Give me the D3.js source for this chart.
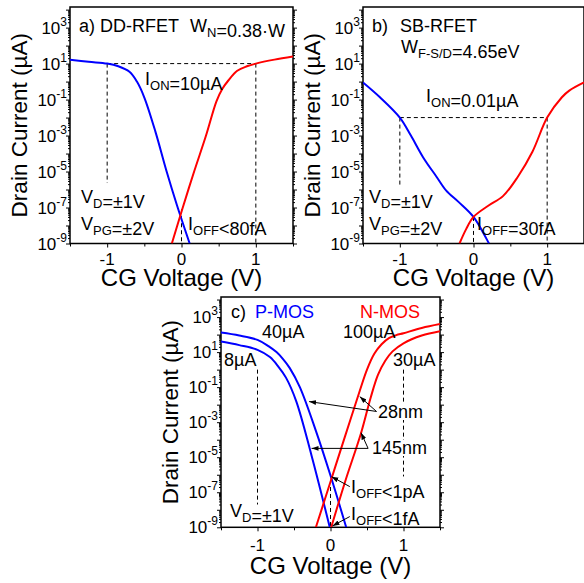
<!DOCTYPE html>
<html>
<head>
<meta charset="utf-8">
<script src="https://cdn.jsdelivr.net/npm/d3@7"></script>
<style>
body{margin:0;background:#fff}
text{font-family:"Liberation Sans",Arial,sans-serif;fill:#000}
</style>
</head>
<body>
<svg id="fig" width="584" height="583"></svg>
<script>
// data, currents in uA
var xTicks = [-1, 0, 1]
var xMinor = [-1.5, -0.5, 0.5, 1.5]
var yLabelExps = [3, 1, -1, -3, -5, -7, -9]
var yMax = 1.4e4

// a) DD-RFET
var aPV = [-1.5, -1.25, -1.0, -0.85, -0.7, -0.6, -0.5, -0.35, -0.2, -0.06, 0.11]
var aPI = [16.6, 12.6, 10, 7.1, 3.5, 1.0, 0.13, 1.6e-3, 1e-5, 1.3e-7, 1e-9]
var aNV = [-0.13, 0.01, 0.17, 0.33, 0.47, 0.55, 0.63, 0.75, 0.88, 1.0, 1.25, 1.5]
var aNI = [1e-9, 8e-8, 1e-5, 1e-3, 0.08, 0.4, 1.15, 4, 7.1, 10, 16.6, 24.5]

// b) SB-RFET
var bPV = [-1.5, -1.27, -1.0, -0.85, -0.685, -0.5, -0.37, -0.2, 0, 0.21]
var bPI = [0.9, 0.135, 0.01, 1e-3, 6.3e-5, 5e-6, 8.7e-7, 2e-7, 3e-8, 1e-9]
var bNV = [-0.19, -0.1, 0, 0.2, 0.4, 0.6, 0.8, 1.0, 1.2, 1.3, 1.5]
var bNI = [1e-9, 6.3e-9, 3e-8, 1.26e-7, 4.3e-7, 5e-6, 1.26e-4, 0.01, 0.135, 0.316, 0.9]

// c) MOS 28nm / 145nm
var cP28V = [-1.5, -1.25, -1.0, -0.85, -0.74, -0.65, -0.56, -0.42, -0.2, 0, 0.215]
var cP28I = [132, 89, 50, 22, 10, 4, 1.26, 0.1, 3.2e-4, 9e-7, 1e-9]
var cP145V = [-1.5, -1.25, -1.0, -0.83, -0.72, -0.61, -0.47, -0.26, -0.01]
var cP145I = [40, 25, 13.5, 5.2, 1.6, 0.35, 0.016, 1.26e-5, 1e-9]
var cN28V = [-0.2, 0, 0.2, 0.4, 0.5, 0.6, 0.7, 0.8, 0.9, 1.0, 1.25, 1.5]
var cN28I = [1e-9, 4e-7, 1.6e-4, 0.06, 1.0, 8, 28, 63, 93, 120, 240, 400]
var cN145V = [0.01, 0.2, 0.42, 0.55, 0.65, 0.75, 0.85, 1.0, 1.25, 1.5]
var cN145I = [1e-9, 4e-7, 2.5e-4, 0.025, 0.5, 3.2, 11, 32, 89, 158]

var blue = "#0000ff", red = "#ff0000"
var svg = d3.select("#fig")

var defs = svg.append("defs")
defs.append("marker").attr("id","arr").attr("viewBox","0 0 10 10")
  .attr("refX",10).attr("refY",5).attr("markerWidth",7).attr("markerHeight",7)
  .attr("orient","auto-start-reverse")
  .append("path").attr("d","M0,1.5 L10,5 L0,8.5 z").attr("fill","#000")

function zip(v, i){ return v.map(function(d,k){ return [d, i[k]] }) }

function txt(g, x, y, parts, color, size){
	var t = g.append("text").attr("x",x).attr("y",y)
	  .style("font-size",(size||18)+"px").style("fill",color||"#000")
	parts.forEach(function(p){
		if(typeof p === "string"){ t.append("tspan").text(p) }
		else {
			t.append("tspan").attr("dy",5).style("font-size","13px").text(p.sub)
			t.append("tspan").attr("dy",-5).text("")
		}
	})
	return t
}

function panel(id, L, R, T, B, tickOff, titleOff){
	var x = d3.scaleLinear().domain([-1.5,1.5]).range([L,R])
	var y = d3.scaleLog().domain([1e-9,yMax]).range([B,T])
	var g = svg.append("g")
	g.append("clipPath").attr("id","clip"+id).append("rect")
	  .attr("x",L).attr("y",T).attr("width",R-L).attr("height",B-T)

	// log ticks left (outward) and right (inward)
	var majors = d3.range(-9,5).map(function(e){ return Math.pow(10,e) })
	var minors = []
	d3.range(-9,4).forEach(function(e){
		for(var m=2;m<10;m++){ var v=m*Math.pow(10,e); if(v<yMax) minors.push(v) }
	})
	g.append("g").attr("transform","translate("+L+",0)")
	  .call(d3.axisLeft(y).tickValues(majors).tickSize(4).tickFormat(""))
	g.append("g").attr("transform","translate("+L+",0)")
	  .call(d3.axisLeft(y).tickValues(minors).tickSize(2).tickFormat(""))
	g.append("g").attr("transform","translate("+R+",0)")
	  .call(d3.axisLeft(y).tickValues(majors).tickSize(-4).tickFormat(""))
	g.append("g").attr("transform","translate("+R+",0)")
	  .call(d3.axisLeft(y).tickValues(minors).tickSize(-2).tickFormat(""))
	g.append("g").attr("transform","translate(0,"+B+")")
	  .call(d3.axisBottom(x).tickValues(xTicks).tickSize(4).tickFormat(""))
	g.append("g").attr("transform","translate(0,"+B+")")
	  .call(d3.axisBottom(x).tickValues(xMinor).tickSize(3).tickFormat(""))
	g.selectAll(".domain").remove()
	g.selectAll(".tick line").attr("stroke","#000").attr("stroke-width",1)

	yLabelExps.forEach(function(e){
		var t = g.append("text").attr("x",L-3).attr("y",y(Math.pow(10,e))+6)
		  .attr("text-anchor","end").style("font-size","17px")
		t.append("tspan").text("10")
		t.append("tspan").attr("dy",-8).style("font-size","12px").text(e)
	})
	xTicks.forEach(function(v){
		g.append("text").attr("x",x(v)).attr("y",B+tickOff).attr("text-anchor","middle")
		  .style("font-size","17px").text(v)
	})
	g.append("text").attr("x",(L+R)/2).attr("y",B+titleOff).attr("text-anchor","middle")
	  .style("font-size","24px").text("CG Voltage (V)")
	g.append("text").attr("transform","translate("+(L-51)+","+((T+B)/2)+") rotate(-90)")
	  .attr("text-anchor","middle").attr("dy","0.35em")
	  .style("font-size","22.5px").text("Drain Current (\u00b5A)")

	g.append("rect").attr("x",L).attr("y",T).attr("width",R-L).attr("height",B-T)
	  .attr("fill","none").attr("stroke","#000").attr("stroke-width",1.5)

	var api = {g:g, x:x, y:y, id:id}
	api.curve = function(data, color){
		var line = d3.line().x(function(d){return x(d[0])}).y(function(d){return y(d[1])})
		  .curve(d3.curveCatmullRom.alpha(0.5))
		g.append("path").datum(data).attr("d",line).attr("clip-path","url(#clip"+id+")")
		  .attr("fill","none").attr("stroke",color).attr("stroke-width",2)
	}
	api.dash = function(v0,i0,v1,i1){
		g.append("line").attr("x1",x(v0)).attr("y1",y(i0)).attr("x2",x(v1)).attr("y2",y(i1))
		  .attr("stroke","#000").attr("stroke-width",1).attr("stroke-dasharray","4,3")
	}
	api.arrow = function(v0,i0,v1,i1){
		g.append("line").attr("x1",x(v0)).attr("y1",y(i0)).attr("x2",x(v1)).attr("y2",y(i1))
		  .attr("stroke","#000").attr("stroke-width",1).attr("marker-end","url(#arr)")
	}
	return api
}

// ---- panel a
var pa = panel("a", 70, 293, 7, 243.5, 21, 42)
pa.dash(-1,10,1,10)
pa.dash(-1,10,-1,2.3e-6)
pa.dash(1,10,1,1e-9)
pa.dash(0,8e-8,0,1e-9)
pa.curve(zip(aPV,aPI), blue)
pa.curve(zip(aNV,aNI), red)
txt(pa.g,79,31.5,["a)"])
txt(pa.g,100,31.5,["DD-RFET"])
txt(pa.g,190,31.5,["W",{sub:"N"},"=0.38\u00b7W"])
txt(pa.g,145,85,["I",{sub:"ON"},"=10\u00b5A"])
txt(pa.g,81,203,["V",{sub:"D"},"=\u00b11V"])
txt(pa.g,81,230,["V",{sub:"PG"},"=\u00b12V"])
txt(pa.g,188,230,["I",{sub:"OFF"},"<80fA"])

// ---- panel b
var pb = panel("b", 363, 584, 7, 243.5, 21, 42)
pb.dash(-1,0.01,1,0.01)
pb.dash(-1,0.01,-1,1.7e-6)
pb.dash(1,0.01,1,1e-9)
pb.dash(0,3e-8,0,1e-9)
pb.curve(zip(bPV,bPI), blue)
pb.curve(zip(bNV,bNI), red)
txt(pb.g,372,31.5,["b)"])
txt(pb.g,400,31.5,["SB-RFET"])
txt(pb.g,401,53,["W",{sub:"F-S/D"},"=4.65eV"])
txt(pb.g,426,102,["I",{sub:"ON"},"=0.01\u00b5A"])
txt(pb.g,369,203,["V",{sub:"D"},"=\u00b11V"])
txt(pb.g,369,230,["V",{sub:"PG"},"=\u00b12V"])
txt(pb.g,477,230,["I",{sub:"OFF"},"=30fA"])

// ---- panel c
var pc = panel("c", 221, 440, 297, 527.3, 24, 47)
pc.dash(-1,1,-1,2e-8)
pc.dash(1,1,1,8e-7)
pc.dash(0,2e-7,0,1e-9)
pc.curve(zip(cP28V,cP28I), blue)
pc.curve(zip(cP145V,cP145I), blue)
pc.curve(zip(cN28V,cN28I), red)
pc.curve(zip(cN145V,cN145I), red)
pc.arrow(0.63,4.1e-3,-0.293,1.5e-2)
pc.arrow(0.63,4.1e-3,0.40,2.9e-2)
pc.arrow(0.515,3.2e-5,-0.26,3.2e-5)
pc.arrow(0.515,3.2e-5,0.418,2.5e-4)
pc.arrow(0.264,2.1e-7,0.014,7.8e-7)
pc.arrow(0.264,4.1e-9,0.027,1.2e-9)
txt(pc.g,231,318,["c)"])
txt(pc.g,255,318,["P-MOS"],blue)
txt(pc.g,360,318,["N-MOS"],red)
txt(pc.g,262,338,["40\u00b5A"])
txt(pc.g,343,338,["100\u00b5A"])
txt(pc.g,224,366,["8\u00b5A"])
txt(pc.g,393,366,["30\u00b5A"])
txt(pc.g,230,517,["V",{sub:"D"},"=\u00b11V"])
;[["28nm",378,418],["145nm",372,454]].forEach(function(d){
	var t = txt(pc.g,d[1],d[2],[d[0]])
	var bb = t.node().getBBox()
	pc.g.insert("rect", function(){ return t.node() })
	  .attr("x",bb.x).attr("y",bb.y+2).attr("width",bb.width).attr("height",bb.height-4)
	  .attr("fill","#fff")
})
txt(pc.g,351,493,["I",{sub:"OFF"},"<1pA"])
txt(pc.g,351,520,["I",{sub:"OFF"},"<1fA"])
</script>
</body>
</html>
